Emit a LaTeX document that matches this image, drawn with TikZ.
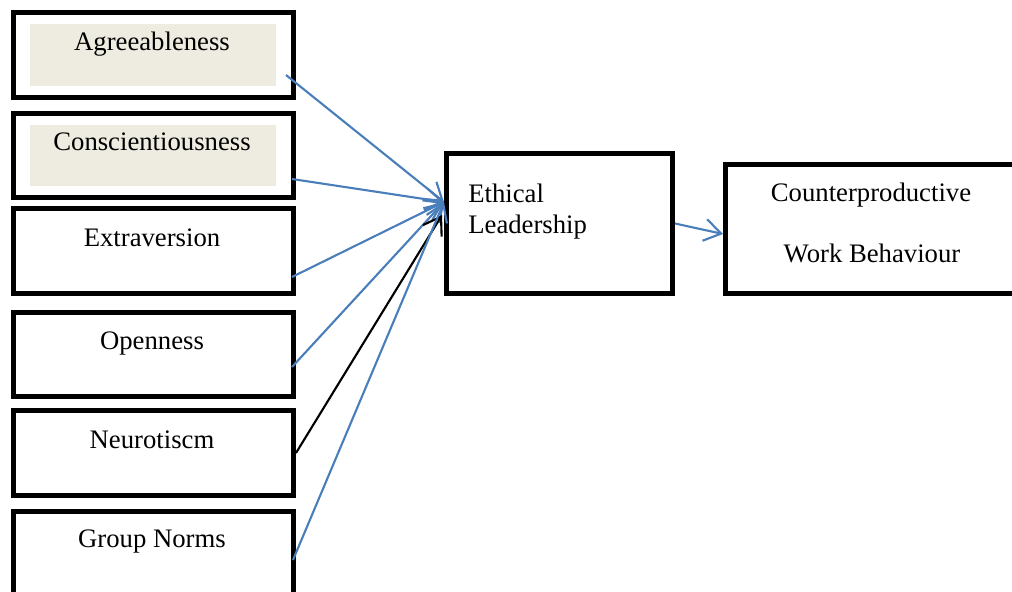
\documentclass[tikz,border=0pt]{standalone}
\usepackage{fontspec}
\setmainfont{Liberation Serif}
\usetikzlibrary{arrows.meta,positioning}
\definecolor{arrowblue}{RGB}{74,126,187}
\definecolor{paleshade}{RGB}{238,236,225}

\begin{document}
\begin{tikzpicture}[
      x=0.02cm,y=-0.02cm,
      box/.style={draw,line width=2.85pt,minimum width=5.6cm,minimum height=1.7cm,inner sep=0pt},
      shadebox/.style={fill=paleshade,minimum width=4.92cm,minimum height=1.23cm,inner sep=0pt},
      lbl/.style={font=\fontsize{15.2}{18}\selectfont,anchor=base,inner sep=0pt},
      arrow/.style={-{Straight Barb[length=9.5pt,width=12.5pt]},line width=1.2pt,draw=arrowblue},
      blackarrow/.style={arrow,draw=black}
    ]
      \useasboundingbox (0,0) rectangle (1012,592);
      \clip (0,0) rectangle (1012,592);

      \node[shadebox] (agreeS) at (153,55) {};
      \node[box] (agree) at (153.5,55) {};
      \node[lbl] (agreeT) at (152,50) {Agreeableness};

      \node[shadebox] (conscS) at (153,155.5) {};
      \node[box] (consc) at (153.5,155.5) {};
      \node[lbl] (conscT) at (152,150) {Conscientiousness};

      \node[box] (extra) at (153.5,251) {};
      \node[lbl] (extraT) at (152,246) {Extraversion};

      \node[box] (open) at (153.5,354.5) {};
      \node[lbl] (openT) at (152,349) {Openness};

      \node[box] (neuro) at (153.5,453) {};
      \node[lbl] (neuroT) at (152,448) {Neurotiscm};

      \node[box] (group) at (153.5,554) {};
      \node[lbl] (groupT) at (152,547) {Group Norms};

      \node[box,minimum width=4.52cm,minimum height=2.8cm] (ethical) at (559.5,223.5) {};
      \node[lbl,anchor=base west] (ethicalA) at (468,202) {Ethical};
      \node[lbl,anchor=base west] (ethicalB) at (468,233) {Leadership};

      \node[box,minimum width=5.89cm,minimum height=2.58cm] (counter) at (872.75,229) {};
      \node[lbl] (counterA) at (871,201) {Counterproductive};
      \node[lbl] (counterB) at (872,262) {Work Behaviour};

      \coordinate (hub) at ([yshift=0.43cm]ethical.west);
      \draw[arrow] ([xshift=-0.2cm,yshift=-0.4cm]agree.east) -- (hub);
      \draw[arrow] ([xshift=-0.08cm,yshift=-0.47cm]consc.east) -- (hub);
      \draw[arrow] ([xshift=-0.08cm,yshift=-0.52cm]extra.east) -- (hub);
      \draw[arrow] ([xshift=-0.08cm,yshift=-0.25cm]open.east) -- (hub);
      \draw[blackarrow] (neuro.east) -- ([xshift=-0.04cm,yshift=0.17cm]ethical.west);
      \draw[arrow] ([xshift=-0.06cm,yshift=-0.12cm]group.east) -- (hub);
      \draw[arrow] (ethical.east) -- ([yshift=-0.1cm]counter.west);
    \end{tikzpicture}
\end{document}
